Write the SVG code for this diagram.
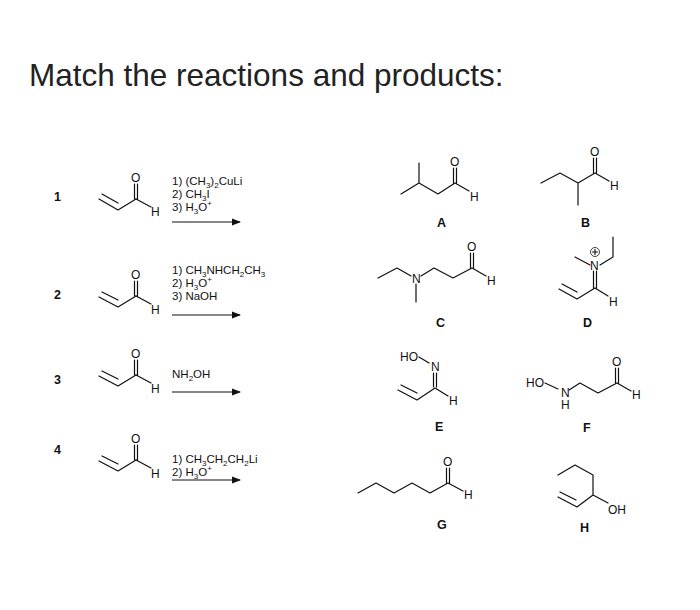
<svg xmlns="http://www.w3.org/2000/svg" width="700" height="610" viewBox="0 0 700 610">
<style>
text{font-family:"Liberation Sans",Arial,sans-serif;fill:#111}
.t{font-size:31.5px;fill:#222}
.a{font-size:12px}
.r{font-size:11.5px}
.s{font-size:8px;baseline-shift:-3px}
.p{font-size:8px;baseline-shift:5px}
.n{font-size:12.5px;font-weight:bold}
.b{fill:none;stroke:#111;stroke-width:1.2;stroke-linecap:round;stroke-linejoin:round}
.ar{stroke:#111;stroke-width:1.2}
</style>
<defs><marker id="ah" markerWidth="8" markerHeight="6" refX="7" refY="3" orient="auto"><path d="M0,0 L8,3 L0,6 z" fill="#111"/></marker></defs>
<rect width="700" height="610" fill="#fff"/>
<text class="t" x="29" y="86">Match the reactions and products:</text>

<g id="r1">
<text class="n" x="54" y="201">1</text>
<path class="b" d="M99,199 L118,210 L136,199 M102,194 L118,203"/>
<path class="b" d="M134.5,199 V184 M137.5,199 V184 M136,199 L151,207"/>
<text class="a" x="131" y="182">O</text><text class="a" x="151" y="216">H</text>
<text class="r" x="172" y="185">1) (CH<tspan class="s">3</tspan>)<tspan class="s">2</tspan>CuLi</text>
<text class="r" x="172" y="198">2) CH<tspan class="s">3</tspan>I</text>
<text class="r" x="172" y="211">3) H<tspan class="s">3</tspan>O<tspan class="p">+</tspan></text>
<line class="ar" x1="172" y1="222" x2="240" y2="222" marker-end="url(#ah)"/>
</g>

<g id="r2">
<text class="n" x="54" y="299">2</text>
<path class="b" d="M99,297 L118,307 L136,296 M102,292 L118,300"/>
<path class="b" d="M134.5,296 V281 M137.5,296 V281 M136,296 L151,304"/>
<text class="a" x="131" y="279">O</text><text class="a" x="151" y="314">H</text>
<text class="r" x="172" y="274">1) CH<tspan class="s">3</tspan>NHCH<tspan class="s">2</tspan>CH<tspan class="s">3</tspan></text>
<text class="r" x="172" y="287">2) H<tspan class="s">3</tspan>O<tspan class="p">+</tspan></text>
<text class="r" x="172" y="300">3) NaOH</text>
<line class="ar" x1="172" y1="315" x2="240" y2="315" marker-end="url(#ah)"/>
</g>

<g id="r3">
<text class="n" x="54" y="384">3</text>
<path class="b" d="M99,376 L118,386 L136,375 M102,371 L118,379"/>
<path class="b" d="M134.5,375 V360 M137.5,375 V360 M136,375 L151,383"/>
<text class="a" x="131" y="358">O</text><text class="a" x="151" y="393">H</text>
<text class="r" x="172" y="378">NH<tspan class="s">2</tspan>OH</text>
<line class="ar" x1="172" y1="392" x2="240" y2="392" marker-end="url(#ah)"/>
</g>

<g id="r4">
<text class="n" x="54" y="454">4</text>
<path class="b" d="M99,461 L118,471 L136,460 M102,456 L118,464"/>
<path class="b" d="M134.5,460 V445 M137.5,460 V445 M136,460 L151,468"/>
<text class="a" x="131" y="443">O</text><text class="a" x="151" y="478">H</text>
<text class="r" x="172" y="463">1) CH<tspan class="s">3</tspan>CH<tspan class="s">2</tspan>CH<tspan class="s">2</tspan>Li</text>
<text class="r" x="172" y="476">2) H<tspan class="s">3</tspan>O<tspan class="p">+</tspan></text>
<line class="ar" x1="172" y1="480" x2="240" y2="480" marker-end="url(#ah)"/>
</g>

<g id="A">
<path class="b" d="M401,194 L419,183 L438,194 L455,183 L469,191 M419,183 V163 M453.5,183 V168 M456.5,183 V168"/>
<text class="a" x="450" y="166">O</text><text class="a" x="470" y="201">H</text>
<text class="n" x="437" y="227">A</text>
</g>
<g id="B">
<path class="b" d="M541,183 L560,173 L578,183 L595,173 L609,181 M578,183 V205 M593.5,173 V158 M596.5,173 V158"/>
<text class="a" x="590" y="156">O</text><text class="a" x="610" y="190">H</text>
<text class="n" x="581" y="227">B</text>
</g>
<g id="C">
<path class="b" d="M378,278 L397,268 L411,276 M416,284 V302 M421,276 L434,268 L453,278 L472,268 L486,276 M470.5,268 V253 M473.5,268 V253"/>
<text class="a" x="412" y="283">N</text>
<text class="a" x="467" y="251">O</text><text class="a" x="487" y="285">H</text>
<text class="n" x="436" y="327">C</text>
</g>
<g id="D">
<path class="b" d="M575,257 L590,265 M600,265 L613,257 V237 M593.5,271 V288 M596.5,271 V288 M559,289 L577,299 L595,288 L608,296 M562,284 L577,292"/>
<text class="a" x="590" y="270">N</text>
<circle cx="595" cy="252" r="4.5" fill="none" stroke="#111" stroke-width="0.8"/>
<path class="b" d="M592.5,252 H597.5 M595,249.5 V254.5" stroke-width="0.8"/>
<text class="a" x="609" y="306">H</text>
<text class="n" x="583" y="327">D</text>
</g>
<g id="E">
<text class="a" x="400" y="361">HO</text><text class="a" x="431" y="371">N</text>
<path class="b" d="M419,357 L429,363 M433.5,373 V387 M436.5,373 V387 M398,390 L417,400 L435,388 L448,396 M401,385 L417,393"/>
<text class="a" x="449" y="405">H</text>
<text class="n" x="435" y="431">E</text>
</g>
<g id="F">
<text class="a" x="526" y="387">HO</text><text class="a" x="561" y="397">N</text><text class="a" x="561" y="409">H</text>
<path class="b" d="M545,383 L558,389 M569,390 L580,383 L598,393 L617,383 L631,391 M615.5,383 V368 M618.5,383 V368"/>
<text class="a" x="612" y="366">O</text><text class="a" x="632" y="399">H</text>
<text class="n" x="583" y="432">F</text>
</g>
<g id="G">
<path class="b" d="M358,493 L376,483 L394,493 L412,483 L430,493 L448,483 L463,491 M446.5,483 V468 M449.5,483 V468"/>
<text class="a" x="443" y="466">O</text><text class="a" x="464" y="499">H</text>
<text class="n" x="437" y="529">G</text>
</g>
<g id="H">
<path class="b" d="M558,475 L575,465 L593,475 V495 L577,507 L558,497 M576,500 L560,492 M593,495 L608,503"/>
<text class="a" x="608" y="514">OH</text>
<text class="n" x="580" y="532">H</text>
</g>
</svg>
